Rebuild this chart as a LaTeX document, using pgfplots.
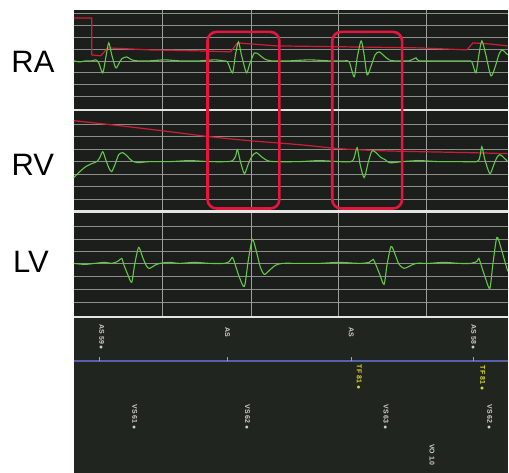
\documentclass[border=0pt]{standalone}
\usepackage{pgfplots}
\pgfplotsset{compat=1.18}
\usepackage{fontspec}
\setmainfont{Liberation Sans}

\definecolor{panel}{RGB}{27,30,26}
\definecolor{markbg}{RGB}{33,37,31}
\definecolor{gridc}{RGB}{140,142,138}
\definecolor{sepc}{RGB}{228,228,226}
\definecolor{sig}{RGB}{100,200,74}
\definecolor{base}{RGB}{205,30,55}
\definecolor{box}{RGB}{228,22,64}
\definecolor{mline}{RGB}{86,96,172}
\definecolor{mtxt}{RGB}{205,205,200}
\definecolor{ytxt}{RGB}{222,222,40}

\begin{document}
\begin{tikzpicture}
\begin{axis}[
  width=509pt, height=474pt, scale only axis,
  xmin=0, xmax=509, ymin=0, ymax=474, y dir=reverse,
  axis lines=none, clip=false,
]
% page and recording panel
\fill[white] (axis cs:0,0) rectangle (axis cs:509,474);
\fill[panel] (axis cs:74,10) rectangle (axis cs:509,319);
\fill[markbg] (axis cs:74,319) rectangle (axis cs:509,474);

% horizontal grid of each channel strip
\pgfplotsinvokeforeach{13,25,37,49,61,73,85,97,
                       125,137,150,162,175,187,200,
                       227,240,252,264,277,290,303}{
  \draw[gridc, line width=0.7pt] (axis cs:74,#1) -- (axis cs:509,#1);
}
% vertical time grid
\pgfplotsinvokeforeach{163,252,339,427}{
  \draw[gridc!85!white, line width=0.8pt] (axis cs:#1,10) -- (axis cs:#1,318);
}
% strip separators
\pgfplotsinvokeforeach{110,212,318}{
  \draw[sepc, line width=2.4pt] (axis cs:74,#1) -- (axis cs:509,#1);
}

% RA reference trace
\addplot[base, line width=1.2pt, no marks] coordinates {
 (74,18) (92,18) (92,55) (101,56) (108,48) (150,50) (200,51) (231,52)
 (238,43) (277,46) (350,47) (420,48) (468,50) (474,43) (490,44) (509,46)
};
% RA electrogram
\addplot[sig, line width=1.1pt, no marks, smooth, tension=0.45] coordinates {
 (74,61) (80,62) (86,61) (92,61) (96,60) (99,63) (103,73) (106,58) (109,43)
 (112,55) (116,68) (119,64) (122,59) (127,57) (132,60) (138,61) (150,61)
 (165,60) (180,61) (200,61) (215,60) (224,61) (228,62) (233,73) (236,55)
 (239,42) (242,55) (247,73) (250,65) (255,53) (260,55) (265,59) (272,61)
 (290,61) (310,60) (330,61) (345,61) (350,62) (355,77) (358,58) (362,41)
 (365,55) (368,75) (372,66) (376,55) (380,52) (385,56) (390,60) (395,61)
 (410,61) (417,58) (420,61) (440,61) (460,61) (470,61) (473,62) (477,73)
 (480,55) (483,41) (487,55) (492,76) (496,68) (500,55) (503,50) (507,53)
 (509,55)
};

% RV reference trace
\addplot[base, line width=1.2pt, no marks, smooth] coordinates {
 (74,121) (120,126) (170,132) (210,137) (250,141) (300,145) (340,149)
 (380,151) (420,152) (470,153) (509,154)
};
% RV electrogram
\addplot[sig, line width=1.1pt, no marks, smooth, tension=0.45] coordinates {
 (74,178) (80,172) (86,167) (92,164) (97,162) (100,158) (103,152) (106,160)
 (109,168) (112,172) (116,163) (119,155) (123,153) (127,156) (132,161)
 (138,163) (150,162) (170,162) (190,161) (210,162) (228,162) (233,161)
 (236,157) (238,150) (241,162) (245,174) (249,164) (253,156) (257,153)
 (262,157) (268,161) (275,162) (300,162) (320,161) (340,162) (352,162)
 (355,158) (358,148) (361,165) (365,178) (369,163) (372,153) (374,151)
 (378,154) (382,158) (386,160) (390,163) (395,163) (403,162) (420,161)
 (440,162) (460,162) (478,162) (481,157) (483,147) (486,160) (491,174)
 (495,165) (498,158) (501,155) (505,158) (509,162)
};

% LV electrogram
\addplot[sig, line width=1.1pt, no marks, smooth, tension=0.45] coordinates {
 (74,264) (85,265) (95,264) (105,263) (112,264) (118,262) (122,259)
 (124,265) (128,275) (132,283) (135,265) (139,248) (143,258) (147,267)
 (150,269) (155,266) (160,264) (170,263) (180,264) (195,263) (210,264)
 (225,264) (230,262) (233,258) (236,266) (240,278) (245,287) (249,260)
 (253,240) (257,252) (261,268) (265,275) (270,271) (276,266) (283,264)
 (300,264) (320,264) (340,263) (360,264) (370,263) (374,260) (377,266)
 (381,276) (385,285) (388,265) (392,247) (396,255) (400,265) (405,269)
 (410,267) (417,264) (430,264) (445,263) (460,264) (472,264) (478,262)
 (480,259) (483,268) (487,280) (491,289) (494,265) (498,238) (502,248)
 (506,262) (509,272)
};

% highlighted beats
\draw[box, line width=2.6pt, rounded corners=9pt]
  (axis cs:208,32) rectangle (axis cs:280,209);
\draw[box, line width=2.6pt, rounded corners=9pt]
  (axis cs:333,32) rectangle (axis cs:403,209);

% channel names
\node[font=\fontsize{31}{31}\selectfont] at (axis cs:33,62) {RA};
\node[font=\fontsize{31}{31}\selectfont] at (axis cs:33,165) {RV};
\node[font=\fontsize{31}{31}\selectfont] at (axis cs:31,262) {LV};

% marker channel
\draw[mline, line width=1.4pt] (axis cs:74,362) -- (axis cs:509,362);
\pgfplotsinvokeforeach{100,228,352,475}{
  \draw[mline!60!white, line width=0.8pt] (axis cs:#1,358) -- (axis cs:#1,362);
}
\begin{scope}[every node/.style={rotate=-90, inner sep=0pt,
    font=\fontsize{7}{7}\selectfont\bfseries}]
\node[mtxt] at (axis cs:102,338) {AS 59 $\bullet$};
\node[mtxt] at (axis cs:228,333) {AS};
\node[mtxt] at (axis cs:352,333) {AS};
\node[mtxt] at (axis cs:475,338) {AS 58 $\bullet$};
\node[ytxt] at (axis cs:360,378) {TF 81 $\bullet$};
\node[ytxt] at (axis cs:484,379) {TF 81 $\bullet$};
\node[mtxt] at (axis cs:135,418) {VS 61 $\bullet$};
\node[mtxt] at (axis cs:248,418) {VS 62 $\bullet$};
\node[mtxt] at (axis cs:387,418) {VS 63 $\bullet$};
\node[mtxt] at (axis cs:491,418) {VS 62 $\bullet$};
\node[mtxt] at (axis cs:433,456) {VO 1.0};
\end{scope}
\end{axis}
\end{tikzpicture}
\end{document}
